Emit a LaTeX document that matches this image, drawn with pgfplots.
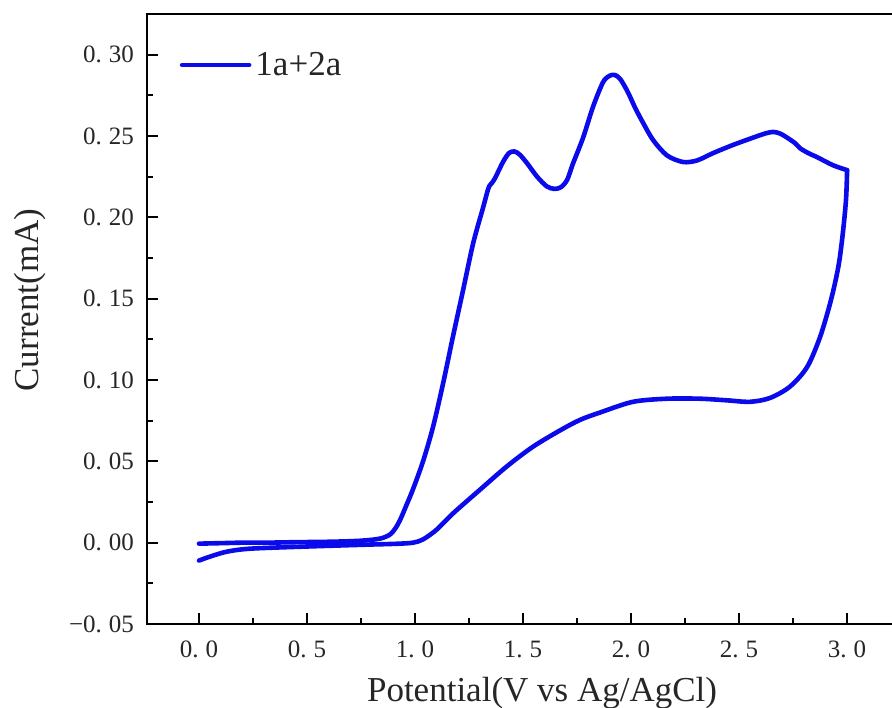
\documentclass[border=0pt]{standalone}
\usepackage{pgfplots}
\pgfplotsset{compat=1.18}
\usepackage{fontspec}
\setmainfont{Liberation Serif}
\definecolor{cvblue}{RGB}{10,10,235}
\newcommand{\tl}[2]{\mbox{\fontsize{12.5}{14}\selectfont\color{black!85}#1.\hspace{3.5pt}#2}}
\begin{document}
\begin{tikzpicture}
\begin{axis}[
  scale only axis,
  width=375pt, height=305pt,
  xmin=-0.2407, xmax=3.231,
  ymin=-0.05, ymax=0.325,
  axis line style={line width=1pt},
  tick style={line width=1pt, black},
  tick align=inside,
  tick pos=left,
  major tick length=5.5pt,
  minor tick length=3pt,
  xtick={0,0.5,1,1.5,2,2.5,3},
  xticklabels={\tl{0}{0},\tl{0}{5},\tl{1}{0},\tl{1}{5},\tl{2}{0},\tl{2}{5},\tl{3}{0}},
  minor xtick={0.25,0.75,1.25,1.75,2.25,2.75},
  ytick={-0.05,0,0.05,0.1,0.15,0.2,0.25,0.3},
  yticklabels={\tl{−0}{05},\tl{0}{00},\tl{0}{05},\tl{0}{10},\tl{0}{15},\tl{0}{20},\tl{0}{25},\tl{0}{30}},
  minor ytick={-0.025,0.025,0.075,0.125,0.175,0.225,0.275},
  xticklabel style={yshift=-5pt},
  yticklabel style={xshift=-3pt},
  xlabel={Potential(V vs Ag/AgCl)},
  ylabel={Current(mA)},
  label style={font=\fontsize{17.5}{20}\selectfont, text=black!85},
  xlabel style={at={(axis description cs:0.5267,0)}, anchor=base, yshift=-38.5pt},
  ylabel style={at={(axis description cs:-0.156,0.531)}, anchor=center, rotate=0},
  legend style={draw=none, fill=none, at={(axis description cs:0.0433,0.9164)}, anchor=west,
    font=\fontsize{17.5}{20}\selectfont, text=black!85, inner sep=0pt,
    nodes={inner sep=2pt}},
  legend cell align=left,
  legend image code/.code={\draw[#1] (0pt,0pt) -- (33.5pt,0pt);},
]
\addplot[cvblue, line width=2.3pt, line join=round, line cap=round, smooth, tension=0.5] coordinates {
(0.000,-0.0006) (0.100,-0.0003) (0.200,0.0000) (0.310,0.0000) (0.450,0.0003)
(0.620,0.0006) (0.750,0.0012) (0.838,0.0025) (0.884,0.0050) (0.910,0.0090)
(0.931,0.0140) (0.960,0.0230) (0.991,0.0330) (1.037,0.0500) (1.083,0.0710)
(1.130,0.0980) (1.176,0.1270) (1.222,0.1550) (1.269,0.1840) (1.315,0.2060)
(1.340,0.2180) (1.355,0.2210) (1.370,0.2240) (1.407,0.2340) (1.435,0.2395)
(1.460,0.2405) (1.485,0.2385) (1.520,0.2330) (1.565,0.2250) (1.610,0.2190)
(1.645,0.2175) (1.675,0.2185) (1.704,0.2230) (1.731,0.2330) (1.778,0.2490)
(1.824,0.2680) (1.870,0.2830) (1.900,0.2870) (1.925,0.2875) (1.950,0.2850)
(1.985,0.2770) (2.020,0.2670) (2.056,0.2580) (2.102,0.2475) (2.167,0.2380)
(2.241,0.2340) (2.306,0.2350) (2.380,0.2395) (2.472,0.2445) (2.565,0.2490)
(2.620,0.2515) (2.657,0.2525) (2.690,0.2515) (2.722,0.2490) (2.760,0.2455)
(2.782,0.2425) (2.820,0.2395) (2.861,0.2370) (2.935,0.2320) (3.000,0.2290)
};
\addlegendentry{1a+2a}
\addplot[cvblue, line width=2.3pt, line join=round, line cap=round, smooth, tension=0.5, forget plot] coordinates {
(3.000,0.2290)
(2.995,0.2110) (2.980,0.1900) (2.960,0.1700) (2.925,0.1490) (2.875,0.1265)
(2.815,0.1080) (2.736,0.0960) (2.644,0.0890) (2.551,0.0866) (2.444,0.0875)
(2.319,0.0885) (2.167,0.0885) (2.009,0.0866) (1.856,0.0800) (1.764,0.0755)
(1.671,0.0690) (1.546,0.0590) (1.426,0.0470) (1.301,0.0326) (1.176,0.0180)
(1.100,0.0080) (1.037,0.0020) (0.991,0.0000) (0.930,-0.0006) (0.838,-0.0010)
(0.780,-0.0012) (0.468,-0.0025) (0.236,-0.0037) (0.130,-0.0055) (0.050,-0.0086)
(0.000,-0.0110)
};
\end{axis}
\pgfresetboundingbox
\path[use as bounding box] (-73.5pt,-41.5pt) rectangle (372.5pt,312pt);
\end{tikzpicture}
\end{document}
